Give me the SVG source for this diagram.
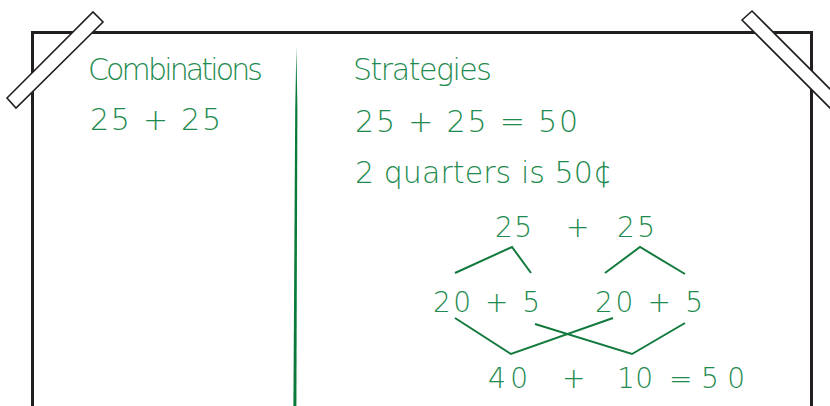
<svg xmlns="http://www.w3.org/2000/svg" width="830" height="406" viewBox="0 0 830 406">
<style>
.t{font-family:"DejaVu Sans","Liberation Sans",sans-serif;font-weight:200;fill:#1d8a4e;font-size:30px}
.s{font-size:28px}
.ln{fill:none;stroke:#137a3e;stroke-width:2;stroke-linejoin:miter}
.tape{fill:#fff;stroke:#231f20;stroke-width:1.6}
</style>
<rect width="830" height="406" fill="#fff"/>
<g id="board">
<path d="M32.5,410 V32.5 H811.5 V410" fill="none" stroke="#231f20" stroke-width="3"/>
</g>
<g id="tapes">
<polygon class="tape" points="7,98 93,12 103,22 16,108"/>
<polygon class="tape" points="742,20 752,11 850,109 840,118"/>
</g>
<g id="divider">
<path d="M296.4,47 L297.4,110 L296.4,406 L293.4,406 L295.2,110 Z" fill="#0a7a3a"/>
</g>
<g id="left-col">
<text class="t" x="88" y="80" textLength="175" lengthAdjust="spacing">Combinations</text>
<text class="t" x="90" y="130" textLength="131" lengthAdjust="spacing">25 + 25</text>
</g>
<g id="right-col">
<text class="t" x="353" y="80" textLength="139" lengthAdjust="spacing">Strategies</text>
<text class="t" x="355" y="132" textLength="223" lengthAdjust="spacing">25 + 25 = 50</text>
<text class="t" x="355" y="183" textLength="257" lengthAdjust="spacing">2 quarters is 50¢</text>
</g>
<g id="tree-top">
<text class="t s" x="495" y="237" textLength="37" lengthAdjust="spacing">25</text>
<text class="t s" x="566" y="237">+</text>
<text class="t s" x="617" y="237" textLength="38" lengthAdjust="spacing">25</text>
</g>
<g id="tree-mid">
<text class="t s" x="433" y="312" textLength="107" lengthAdjust="spacing">20 + 5</text>
<text class="t s" x="595" y="312" textLength="108" lengthAdjust="spacing">20 + 5</text>
</g>
<g id="tree-bottom">
<text class="t s" x="488" y="388" textLength="40" lengthAdjust="spacing">40</text>
<text class="t s" x="562" y="388">+</text>
<text class="t s" x="617" y="388" textLength="36" lengthAdjust="spacing">10</text>
<text class="t s" x="669" y="388">=</text>
<text class="t s" x="701" y="388" textLength="44" lengthAdjust="spacing">50</text>
</g>
<g id="connectors">
<polyline class="ln" points="455,273 512,247 531,273"/>
<polyline class="ln" points="605,273 640,247 685,274"/>
<polyline class="ln" points="455,318 511,354 613,318"/>
<polyline class="ln" points="535,324 632,354 685,323"/>
</g>
</svg>
